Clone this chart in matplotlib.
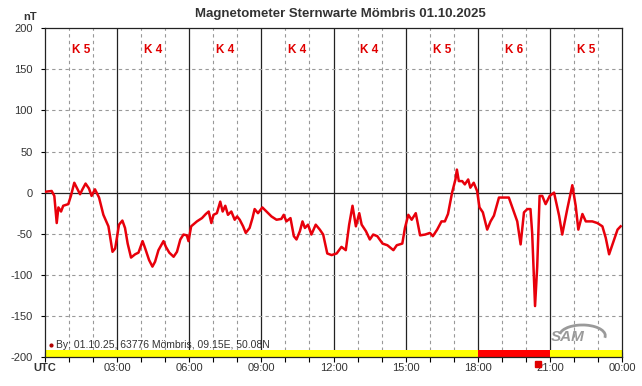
import matplotlib.pyplot as plt
from matplotlib.patches import Arc

# magnetometer trace, hours UTC vs nT
hours = [0, 0.28, 0.39, 0.49, 0.56, 0.67, 0.76, 0.97, 1.08, 1.22, 1.36, 1.46, 1.56,
         1.69, 1.83, 1.94, 2.08, 2.25, 2.43, 2.64, 2.81, 2.92, 3.08, 3.22, 3.33, 3.44,
         3.58, 3.75, 3.89, 4.06, 4.17, 4.33, 4.47, 4.58, 4.72, 4.93, 5.03, 5.17, 5.35,
         5.49, 5.63, 5.76, 5.90, 5.97, 6.08, 6.32, 6.53, 6.69, 6.81, 6.92, 7.01, 7.15,
         7.29, 7.39, 7.50, 7.61, 7.75, 7.89, 7.99,
         8.10, 8.24, 8.35, 8.51, 8.63, 8.72, 8.86, 9.04, 9.21, 9.42, 9.63, 9.83, 9.93,
         10.04, 10.21, 10.35, 10.46, 10.60, 10.71, 10.81, 10.94, 11.08, 11.26, 11.43,
         11.57, 11.74, 11.92, 12.13, 12.33, 12.51, 12.65, 12.79, 12.93, 13.07, 13.17,
         13.35, 13.51, 13.65, 13.82, 14.04, 14.24, 14.49, 14.63, 14.86, 14.97, 15.11,
         15.25, 15.42, 15.60, 15.81, 16.01,
         16.13, 16.31, 16.49, 16.63, 16.76, 16.93, 17.07, 17.13, 17.21, 17.35, 17.46,
         17.60, 17.69, 17.83, 17.97, 18.07, 18.21, 18.39, 18.53, 18.67, 18.88, 19.08,
         19.29, 19.46, 19.64, 19.78, 19.92, 20.06, 20.19, 20.26, 20.38, 20.47, 20.57,
         20.68, 20.82, 20.99, 21.17, 21.38, 21.51, 21.72, 21.93, 22.07, 22.18, 22.35,
         22.49, 22.76, 22.97, 23.18, 23.32, 23.46, 23.67, 23.81, 23.94]
nT = [1, 2, -4, -37, -18, -23, -16, -14, -4, 12, 4, -2, 4,
      11, 5, -4, 4, -6, -27, -41, -72, -68, -39, -34, -43, -62,
      -79, -75, -73, -59, -68, -82, -90, -84, -70, -59, -66, -73, -78,
      -72, -57, -51, -52, -59, -41, -35, -31, -26, -23, -37, -27, -25,
      -11, -23, -16, -27, -23, -33, -29,
      -33, -41, -49, -43, -31, -20, -25, -18, -23, -29, -33, -32, -27,
      -35, -31, -53, -57, -47, -35, -43, -39, -51, -39, -45,
      -51, -74, -76, -74, -66, -70, -39, -16, -41, -25, -39,
      -47, -57, -51, -53, -62, -64, -70, -64, -62, -43, -27,
      -33, -25, -52, -51, -49,
      -53, -45, -35, -35, -26, 0, 16, 28, 14, 14, 10,
      16, 6, 12, 2, -18, -24, -45, -35, -28, -6, -6,
      -6, -20, -35, -63, -24, -20, -20, -49, -138, -90, -4,
      -4, -14, -4, 0, -28, -51, -20, 9, -16, -45, -26,
      -35, -35, -37, -41, -55, -75, -57, -45, -41]

k_start = [0, 3, 6, 9, 12, 15, 18, 21]
k_index = [5, 4, 4, 4, 4, 5, 6, 5]
x_labels = ["UTC", "03:00", "06:00", "09:00", "12:00", "15:00", "18:00", "21:00", "00:00"]

plt.rcParams['font.family'] = ['Liberation Sans', 'DejaVu Sans']
fig = plt.figure(figsize=(6.42, 3.86), dpi=100)
ax = fig.add_axes([0.070, 0.075, 0.899, 0.852])
txt = '#333333'

ax.set_xlim(0, 24)
ax.set_ylim(-200, 200)

# grid
for h in range(1, 24):
    if h % 3:
        ax.axvline(h, color='#999999', lw=0.8, ls=(0, (3, 3)), zorder=1)
    else:
        ax.axvline(h, color='#222222', lw=0.9, zorder=1)
for v in range(-150, 201, 50):
    if v == 0:
        ax.axhline(v, color='#222222', lw=0.9, zorder=1)
    elif v < 200:
        ax.axhline(v, color='#999999', lw=0.8, ls=(0, (3, 3)), zorder=1)

# K index bar at the bottom
bar_colors = ['red' if k >= 6 else '#ffff00' for k in k_index]
ax.bar(k_start, 8.5, width=3, bottom=-200, align='edge', color=bar_colors, zorder=2)
for s, k in zip(k_start, k_index):
    ax.text(s + 1.5, 174, f"K {k}", color='#e00000', fontsize=8.5, fontweight='bold',
            ha='center', va='center', zorder=3)

ax.plot(hours, nT, color='#e8000b', lw=1.8, zorder=4)

# current time marker below the axis
ax.plot([20.5], [-208.5], marker='s', color='#e00000', ms=4.5, clip_on=False, zorder=5)

ax.plot([0.25], [-185], marker='o', color='#b00000', ms=2, zorder=5)
ax.text(0.45, -185, "By: 01.10.25, 63776 Mömbris, 09.15E, 50.08N", fontsize=7.5,
        color=txt, va='center', zorder=5)

# SAM logo
ax.text(21.75, -176, "SAM", fontsize=11, fontstyle='italic', fontweight='bold',
        color='#9a9a9a', ha='center', va='center', zorder=5)
ax.add_patch(Arc((22.35, -174), 1.9, 26, angle=0, theta1=-70, theta2=115,
                 color='#9a9a9a', lw=2, zorder=5))

ax.set_xticks(range(0, 25, 3))
ax.set_xticklabels(x_labels, fontsize=8, color=txt)
ax.get_xticklabels()[0].set_fontweight('bold')
ax.set_xticks(range(0, 25), minor=True)
ax.tick_params(axis='x', which='both', direction='inout', length=7, width=0.8, pad=1)
ax.set_yticks(range(-200, 201, 50))
ax.set_yticklabels([str(v) for v in range(-200, 201, 50)], fontsize=8, color=txt)
ax.tick_params(axis='y', length=3, width=0.8, pad=6)

for sp in ax.spines.values():
    sp.set_color('#222222')
    sp.set_linewidth(0.9)

fig.text(0.058, 0.955, "nT", fontsize=8, color=txt, ha='right', va='center', fontweight='bold')
fig.text(0.53, 0.963, "Magnetometer Sternwarte Mömbris 01.10.2025", fontsize=9.5,
         fontweight='bold', color=txt, ha='center', va='center')

fig.savefig("out.png", dpi=100)
